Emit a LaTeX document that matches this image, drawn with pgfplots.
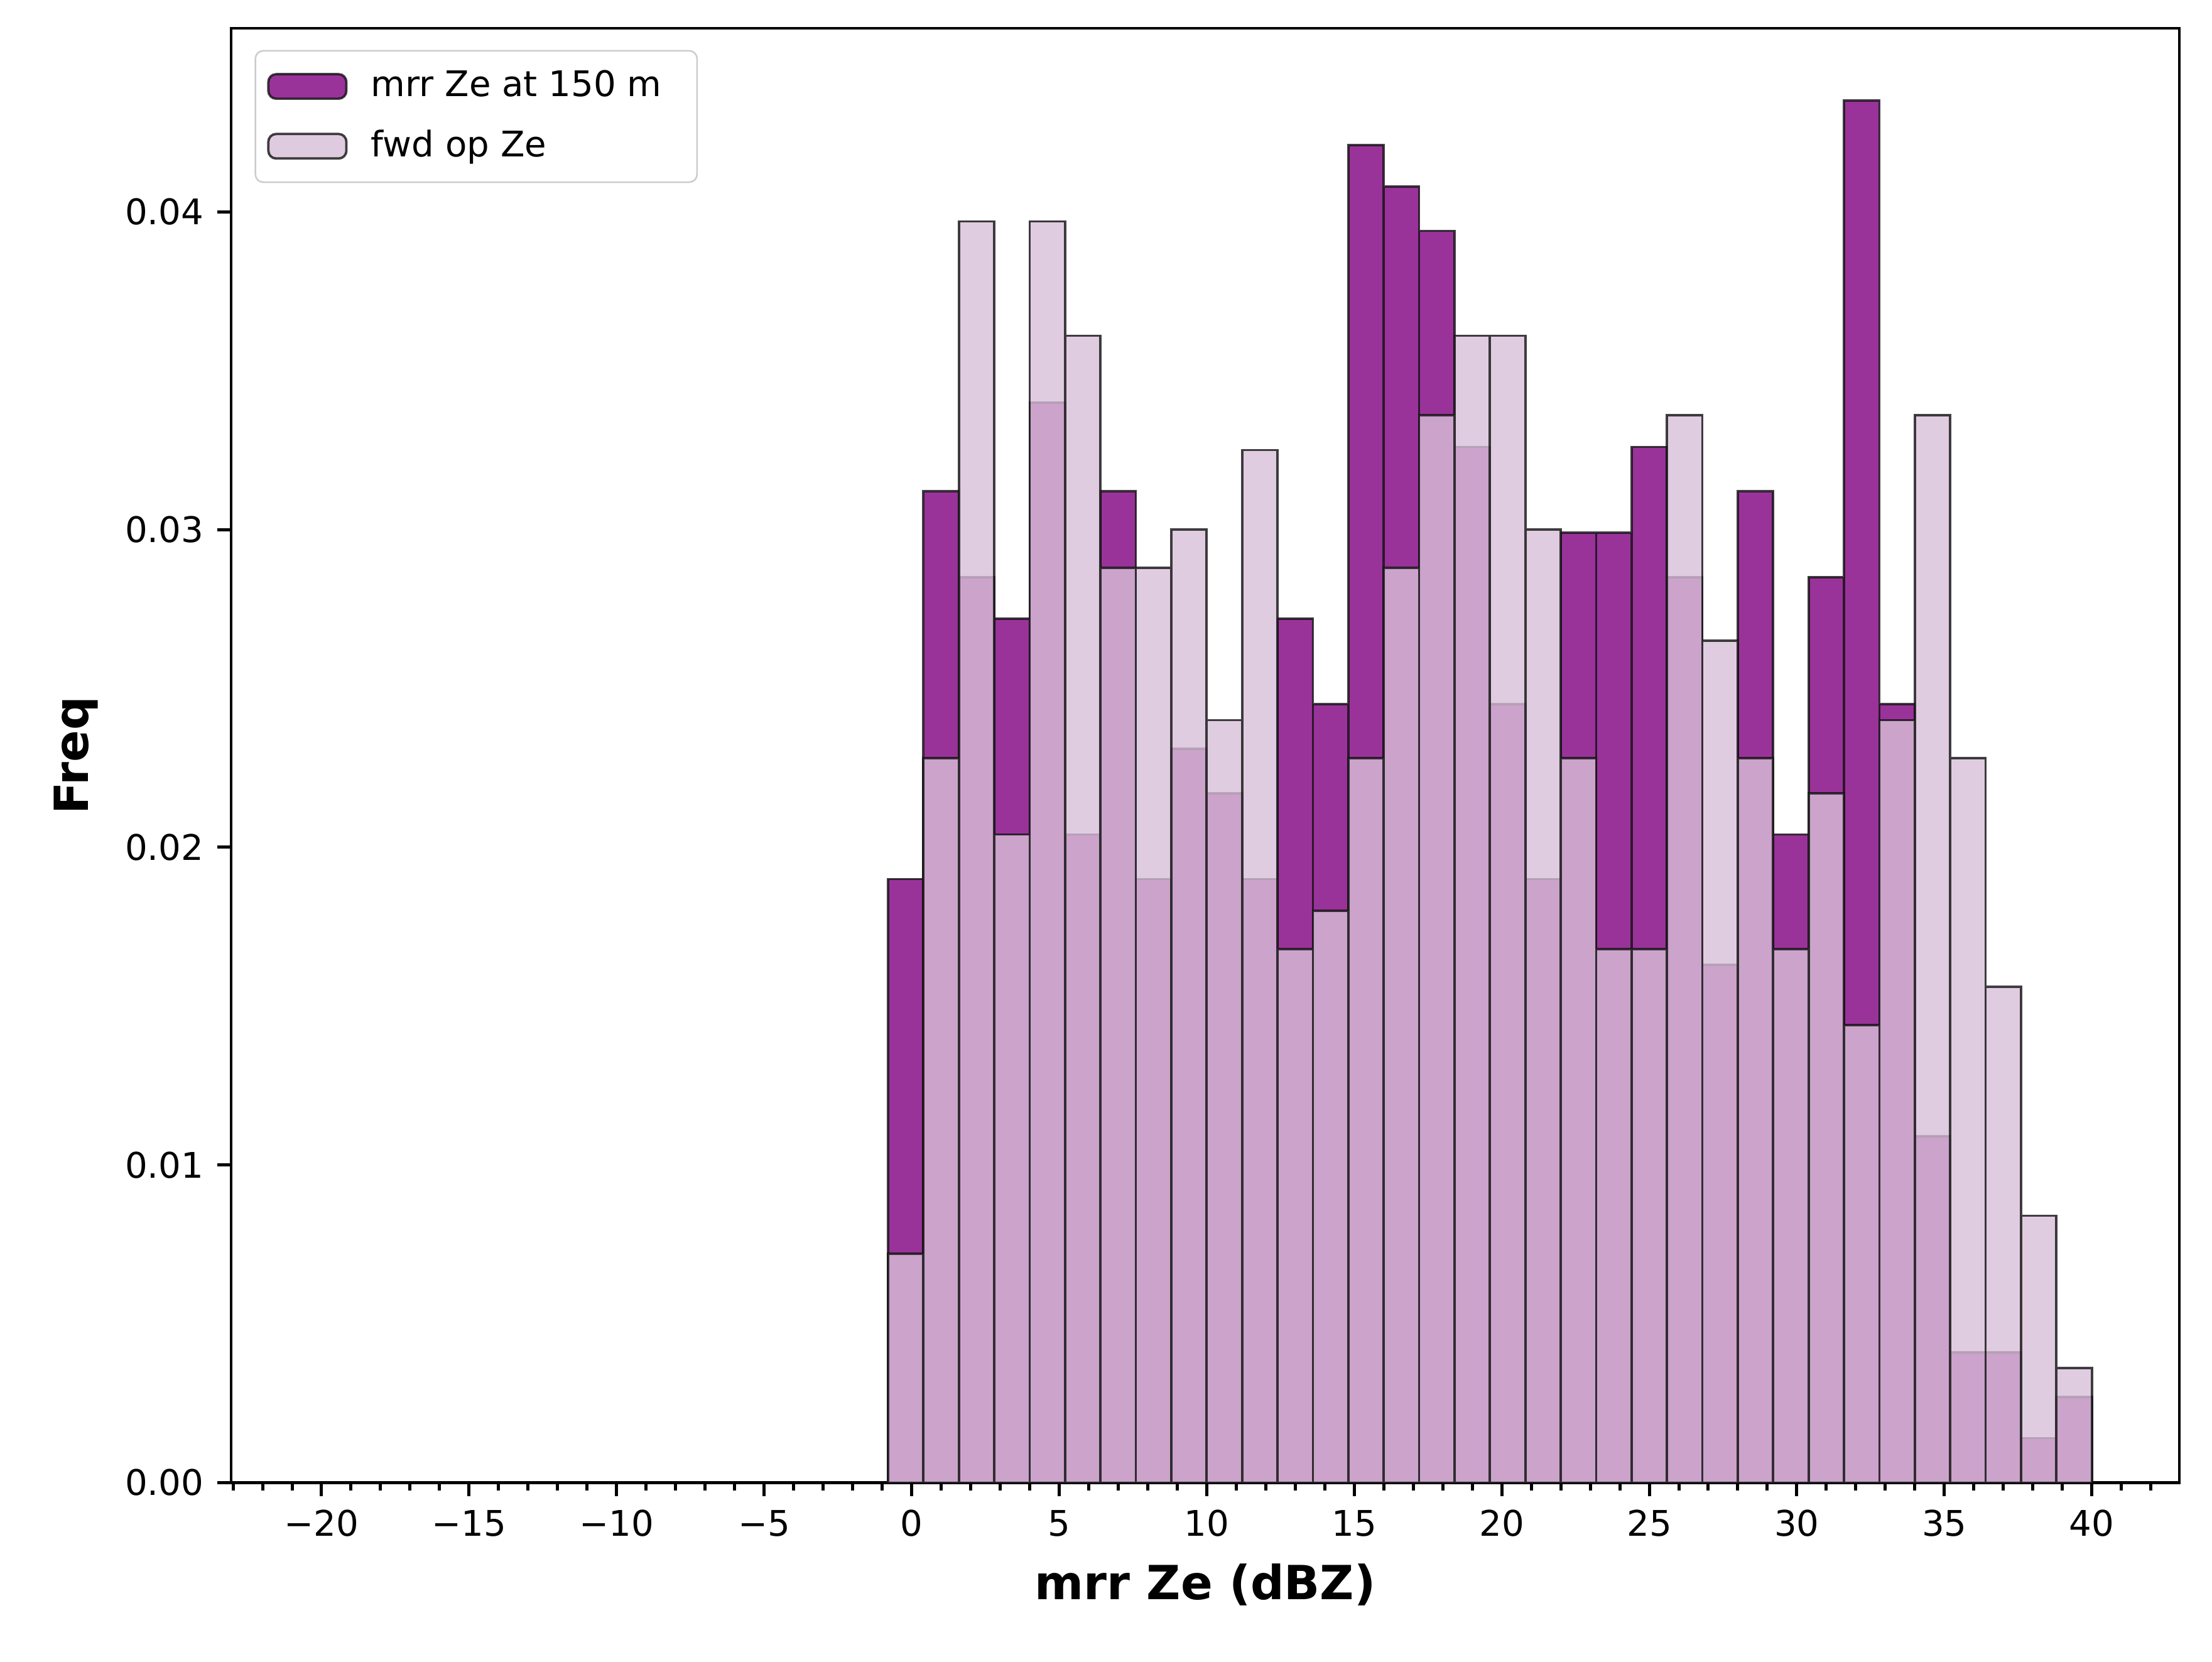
\documentclass[border=0pt]{standalone}
\usepackage{pgfplots}
\pgfplotsset{compat=1.18}
\usepackage{fontspec}
\setmainfont{DejaVu Sans}
\definecolor{dk}{HTML}{800080}
\definecolor{lt}{HTML}{D8BFD8}
\definecolor{edge}{HTML}{111111}
\begin{document}
\begin{tikzpicture}
\begin{axis}[
  width=497pt, height=371pt, scale only axis,
  xmin=-23.06, xmax=42.97, ymin=0, ymax=0.04578,
  xtick={-20,-15,...,40}, minor xtick={-23,-22,...,42},
  xticklabels={−20,−15,−10,−5,0,5,10,15,20,25,30,35,40},
  ytick={0,0.01,0.02,0.03,0.04},
  yticklabel style={/pgf/number format/fixed,/pgf/number format/fixed zerofill,/pgf/number format/precision=2},
  scaled y ticks=false,
  /pgf/number format/assume math mode=true,
  axis line style={line width=0.7pt},
  tick align=outside, tick pos=left,
  major tick length=3.5pt, minor tick length=2pt,
  every tick/.style={black, line width=0.8pt},
  ticklabel style={font=\small},
  xlabel={\bfseries mrr Ze (dBZ)}, ylabel={\bfseries Freq},
  label style={font=\large},
  legend style={at={(0.012,0.985)}, anchor=north west, font=\small, draw=black!20, rounded corners=2pt, inner sep=3pt, row sep=3pt},
  legend cell align=left,
  legend image code/.code={\draw[#1] (0cm,-0.11cm) rectangle (0.7cm,0.11cm);},
  legend style={nodes={inner xsep=6pt}},
]
\addplot[ybar interval, fill=dk, fill opacity=0.8, draw=edge, draw opacity=0.8, line width=0.6pt] coordinates {
(-0.8,0.0190)(0.4,0.0312)(1.6,0.0285)(2.8,0.0272)(4.0,0.0340)(5.2,0.0204)(6.4,0.0312)(7.6,0.0190)(8.8,0.0231)(10.0,0.0217)(11.2,0.0190)(12.4,0.0272)(13.6,0.0245)(14.8,0.0421)(16.0,0.0408)(17.2,0.0394)(18.4,0.0326)(19.6,0.0245)(20.8,0.0190)(22.0,0.0299)(23.2,0.0299)(24.4,0.0326)(25.6,0.0285)(26.8,0.0163)(28.0,0.0312)(29.2,0.0204)(30.4,0.0285)(31.6,0.0435)(32.8,0.0245)(34.0,0.0109)(35.2,0.0041)(36.4,0.0041)(37.6,0.0014)(38.8,0.0027)(40.0,0.0027)};
\addlegendentry{mrr Ze at 150 m}
\addplot[ybar interval, fill=lt, fill opacity=0.8, draw=edge, draw opacity=0.8, line width=0.6pt] coordinates {
(-0.8,0.0072)(0.4,0.0228)(1.6,0.0397)(2.8,0.0204)(4.0,0.0397)(5.2,0.0361)(6.4,0.0288)(7.6,0.0288)(8.8,0.0300)(10.0,0.0240)(11.2,0.0325)(12.4,0.0168)(13.6,0.0180)(14.8,0.0228)(16.0,0.0288)(17.2,0.0336)(18.4,0.0361)(19.6,0.0361)(20.8,0.0300)(22.0,0.0228)(23.2,0.0168)(24.4,0.0168)(25.6,0.0336)(26.8,0.0265)(28.0,0.0228)(29.2,0.0168)(30.4,0.0217)(31.6,0.0144)(32.8,0.0240)(34.0,0.0336)(35.2,0.0228)(36.4,0.0156)(37.6,0.0084)(38.8,0.0036)(40.0,0.0036)};
\addlegendentry{fwd op Ze}
\end{axis}
\path (current axis.north east) ++(8.3pt,7.2pt) coordinate (tr);
\path (current axis.south west) ++(-59pt,-45.7pt) coordinate (bl);
\useasboundingbox (bl) rectangle (tr);
\end{tikzpicture}
\end{document}
